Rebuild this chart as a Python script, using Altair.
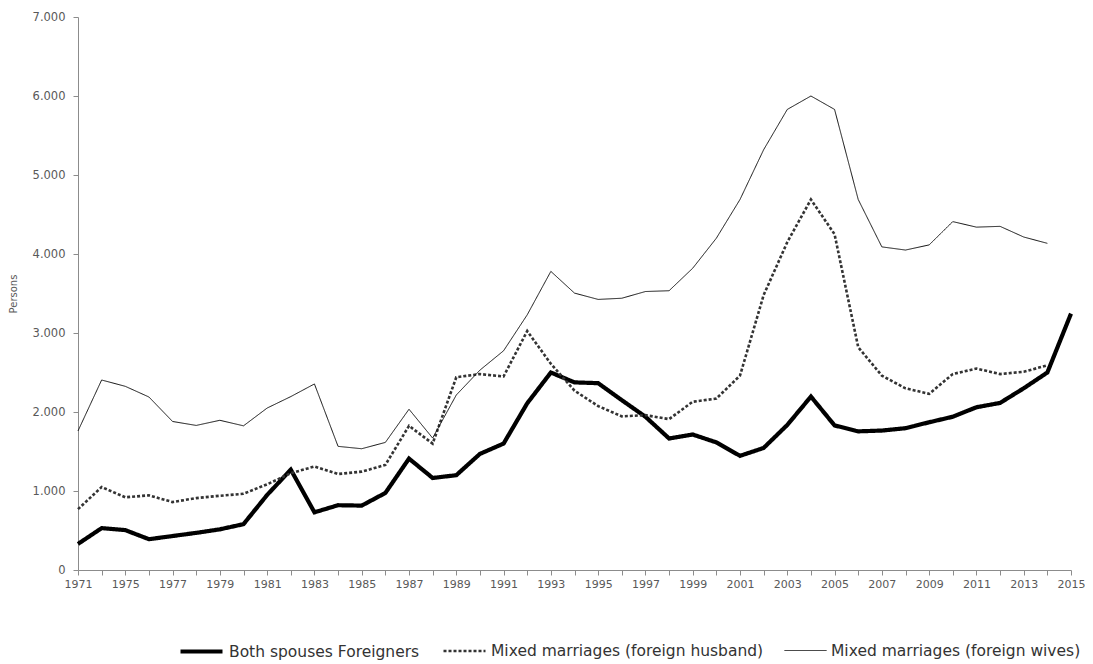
import json
import altair as alt
import pandas as pd

years = [1971, 1973] + list(range(1975, 2016))
year_labels = [str(y) for y in years]
shown_labels = year_labels[::2]

both_spouses = [330, 530, 505, 390, 430, 470, 515, 580, 950, 1270, 730, 820, 815, 975,
                1410, 1165, 1200, 1470, 1600, 2110, 2500, 2375, 2365, 2150, 1940, 1665,
                1715, 1615, 1445, 1545, 1836, 2195, 1830, 1755, 1765, 1795, 1870, 1940,
                2060, 2115, 2300, 2500, 3245]
foreign_husband = [770, 1050, 920, 945, 860, 910, 940, 965, 1085, 1225, 1310, 1215, 1245,
                   1330, 1825, 1600, 2440, 2480, 2450, 3025, 2610, 2270, 2075, 1945, 1960,
                   1910, 2130, 2170, 2460, 3480, 4150, 4690, 4250, 2820, 2460, 2300, 2230,
                   2480, 2550, 2480, 2510, 2590]
foreign_wives = [1760, 2405, 2325, 2190, 1880, 1830, 1895, 1825, 2050, 2195, 2355, 1565,
                 1535, 1615, 2035, 1670, 2215, 2530, 2775, 3230, 3780, 3505, 3425, 3440,
                 3525, 3535, 3820, 4200, 4690, 5320, 5830, 6000, 5830, 4690, 4090, 4050,
                 4115, 4410, 4340, 4350, 4215, 4135]

series_names = ["Both spouses Foreigners",
                "Mixed marriages (foreign husband)",
                "Mixed marriages (foreign wives)"]

rows = []
for name, vals in zip(series_names, [both_spouses, foreign_husband, foreign_wives]):
    for y, v in zip(year_labels, vals):
        rows.append({"year": y, "value": v, "series": name})
df = pd.DataFrame(rows)

FONT = "DejaVu Sans"
GREY = "#595959"

label_expr = "indexof(" + json.dumps(shown_labels) + ", datum.value) >= 0 ? datum.value : ''"

legend = alt.Legend(
    title=None, orient="none", direction="horizontal",
    legendX=100, legendY=611,
    symbolType="stroke", symbolSize=1764,
    labelFont=FONT, labelFontSize=15.5, labelColor="#333333", labelLimit=600,
    columnPadding=18, labelOffset=4,
)

chart = alt.Chart(df).mark_line(clip=False).encode(
    x=alt.X("year:O", sort=year_labels,
            scale=alt.Scale(type="point", padding=0),
            axis=alt.Axis(title=None, labelAngle=0, labelExpr=label_expr,
                          labelOverlap=False, tickSize=5, domainColor="#8c8c8c",
                          tickColor="#8c8c8c", labelColor=GREY, labelFont=FONT,
                          labelFontSize=11, labelPadding=3)),
    y=alt.Y("value:Q", scale=alt.Scale(domain=[0, 7000], nice=False),
            axis=alt.Axis(title="Persons", values=list(range(0, 7001, 1000)),
                          labelExpr="replace(format(datum.value, ','), ',', '.')",
                          grid=False, tickSize=5, domainColor="#8c8c8c",
                          tickColor="#8c8c8c", labelColor=GREY, labelFont=FONT,
                          labelFontSize=11.5, labelPadding=8,
                          titleFont=FONT, titleFontSize=10, titleFontWeight="normal",
                          titleColor=GREY, titlePadding=14)),
    color=alt.Color("series:N", sort=series_names,
                    scale=alt.Scale(domain=series_names,
                                    range=["#000000", "#333333", "#111111"]),
                    legend=legend),
    strokeDash=alt.StrokeDash("series:N", sort=series_names,
                              scale=alt.Scale(domain=series_names,
                                              range=[[1, 0], [3, 2], [1, 0]]),
                              legend=legend),
    strokeWidth=alt.StrokeWidth("series:N", sort=series_names,
                                scale=alt.Scale(domain=series_names,
                                                range=[4.2, 1.0, 1.3]),
                                legend=legend),
).properties(
    width=993, height=553,
    background="white",
    autosize=alt.AutoSizeParams(type="none"),
    padding={"left": 70, "top": 9, "right": 14, "bottom": 94},
).configure_view(stroke=None)

chart.save("out.html", embed_options={"renderer": "svg", "actions": False})
